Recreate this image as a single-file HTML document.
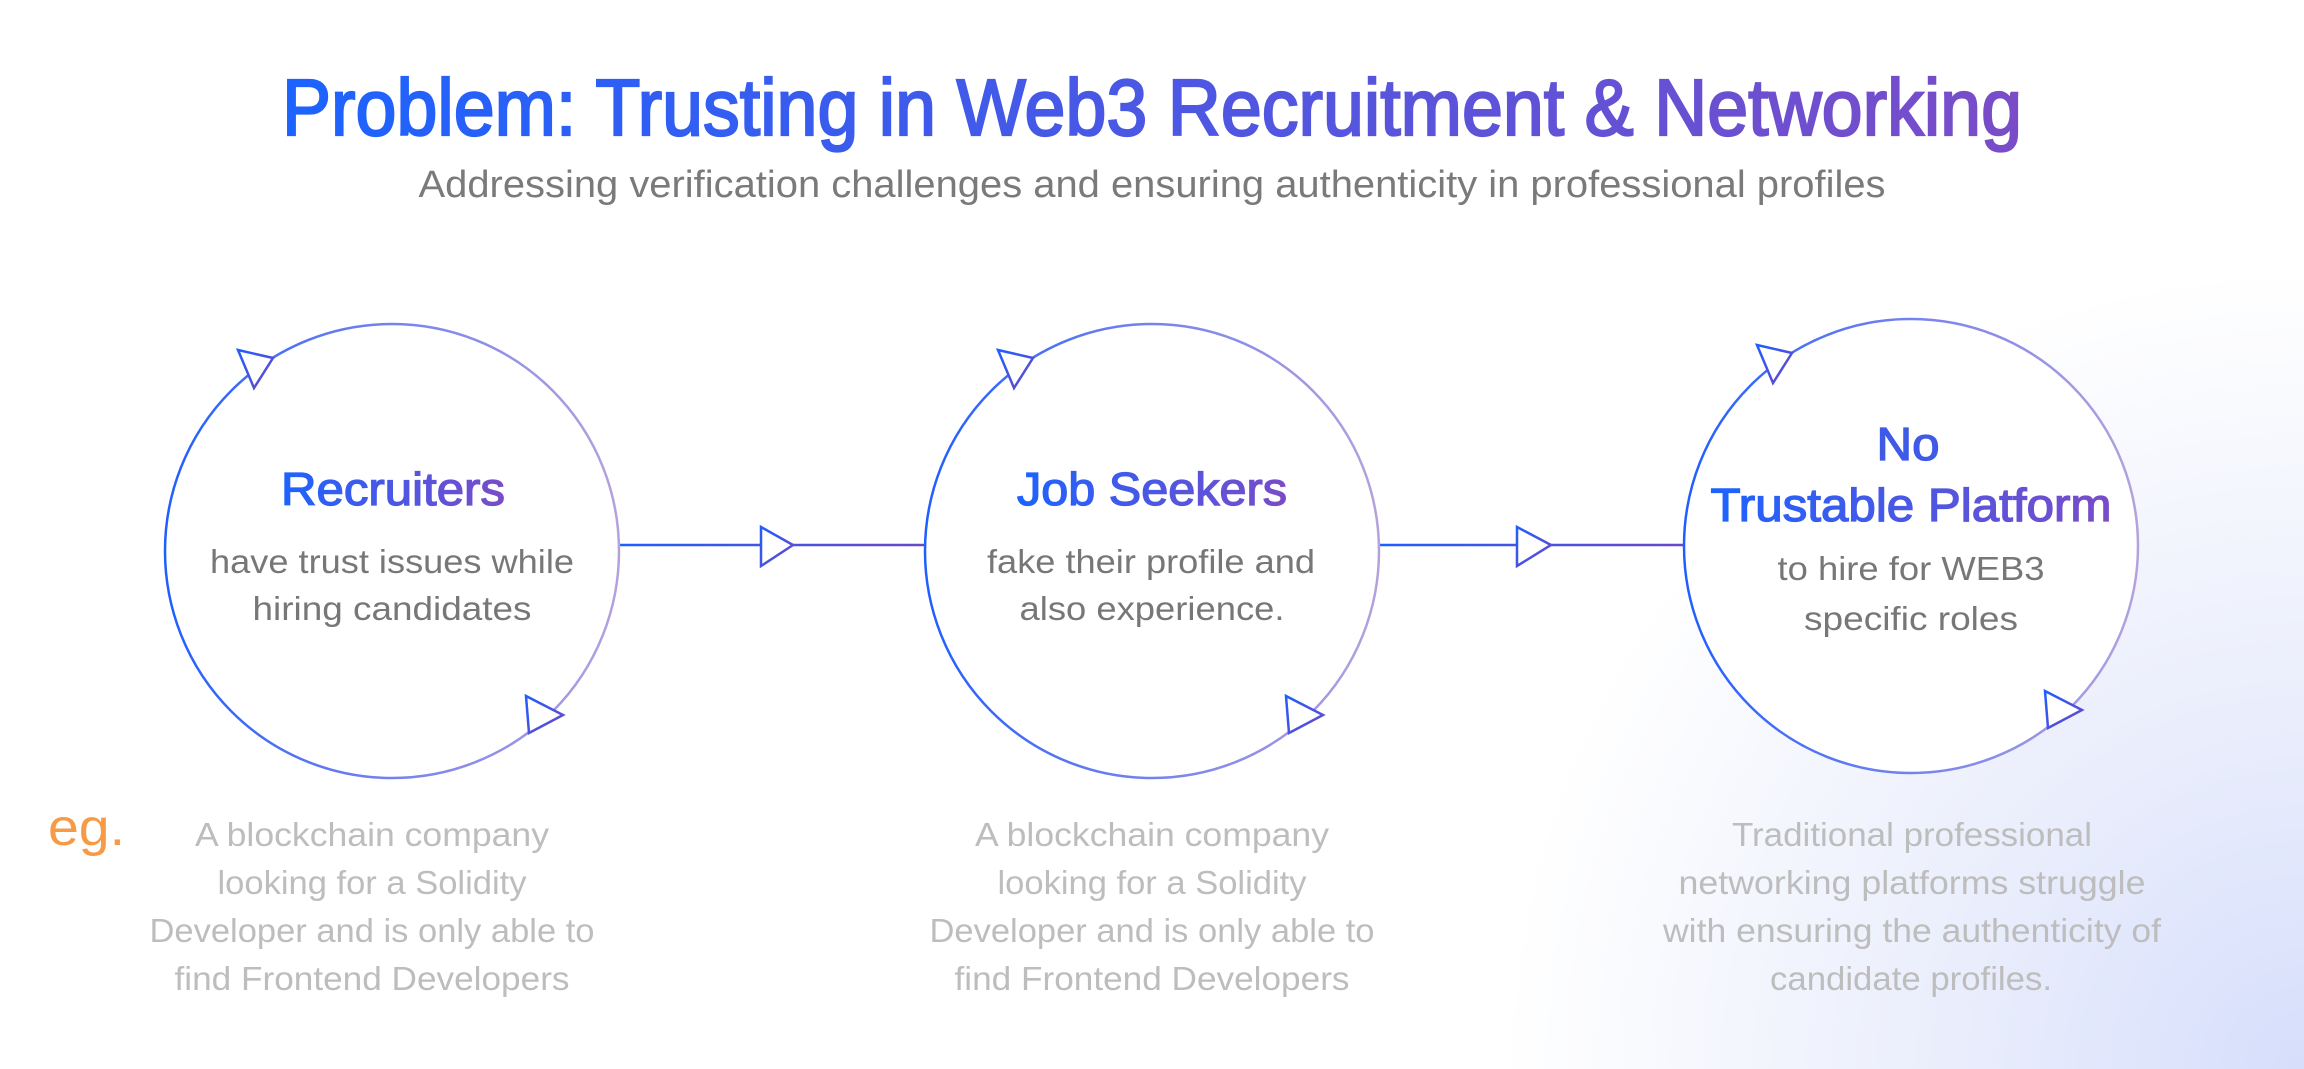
<!DOCTYPE html>
<html><head><meta charset="utf-8"><style>
html,body{margin:0;padding:0;background:#fff;}
svg{display:block;font-family:"Liberation Sans",sans-serif;}
</style></head><body>
<svg width="2304" height="1069" viewBox="0 0 2304 1069" xmlns="http://www.w3.org/2000/svg">
<defs>
<radialGradient id="bg" cx="2304" cy="1069" r="800" gradientUnits="userSpaceOnUse">
<stop offset="0" stop-color="#d6defb"/><stop offset="0.45" stop-color="#eaeefc"/><stop offset="1" stop-color="#ffffff"/>
</radialGradient>
<linearGradient id="tg" x1="0" x2="1" y1="0" y2="0"><stop offset="0" stop-color="#1c63ff"/><stop offset="1" stop-color="#7a4cc8"/></linearGradient>
<linearGradient id="cg" x1="0" x2="1" y1="0" y2="0"><stop offset="0" stop-color="#1f5eff"/><stop offset="0.45" stop-color="#6f7ff0"/><stop offset="1" stop-color="#b4a2dd"/></linearGradient>
<linearGradient id="lg1" gradientUnits="userSpaceOnUse" x1="620" x2="924" y1="0" y2="0"><stop offset="0" stop-color="#1f5eff"/><stop offset="1" stop-color="#6a48c8"/></linearGradient>
<linearGradient id="lg2" gradientUnits="userSpaceOnUse" x1="1380" x2="1684" y1="0" y2="0"><stop offset="0" stop-color="#1f5eff"/><stop offset="1" stop-color="#6a48c8"/></linearGradient>
<linearGradient id="ag" x1="0" x2="1" y1="0" y2="1"><stop offset="0" stop-color="#1f5eff"/><stop offset="1" stop-color="#6a48c8"/></linearGradient>
</defs>
<rect width="2304" height="1069" fill="url(#bg)"/>
<text x="1152" y="135" text-anchor="middle" font-size="80" fill="url(#tg)" stroke="url(#tg)" stroke-width="2.2" textLength="1740" lengthAdjust="spacingAndGlyphs">Problem: Trusting in Web3 Recruitment &amp; Networking</text>
<text x="1152" y="197" text-anchor="middle" font-size="38" fill="#7a7a7a" textLength="1467" lengthAdjust="spacingAndGlyphs">Addressing verification challenges and ensuring authenticity in professional profiles</text>

<line x1="620" y1="545" x2="924" y2="545" stroke="url(#lg1)" stroke-width="2.5"/>
<polygon points="761,527 793,545 761,566" fill="#fff" stroke="url(#ag)" stroke-width="2.5"/>
<line x1="1380" y1="545" x2="1684" y2="545" stroke="url(#lg2)" stroke-width="2.5"/>
<polygon points="1517,527 1551,545 1517,566" fill="#fff" stroke="url(#ag)" stroke-width="2.5"/>

<g>
<circle cx="392" cy="551" r="227" fill="#fff" stroke="url(#cg)" stroke-width="2.5"/>
<polygon points="238,350 273,358 254,388" fill="#fff" stroke="url(#ag)" stroke-width="2.5"/>
<polygon points="526,696 563,715 529,733" fill="#fff" stroke="url(#ag)" stroke-width="2.5"/>
</g>
<g transform="translate(760,0)">
<circle cx="392" cy="551" r="227" fill="#fff" stroke="url(#cg)" stroke-width="2.5"/>
<polygon points="238,350 273,358 254,388" fill="#fff" stroke="url(#ag)" stroke-width="2.5"/>
<polygon points="526,696 563,715 529,733" fill="#fff" stroke="url(#ag)" stroke-width="2.5"/>
</g>
<g transform="translate(1519,-5)">
<circle cx="392" cy="551" r="227" fill="#fff" stroke="url(#cg)" stroke-width="2.5"/>
<polygon points="238,350 273,358 254,388" fill="#fff" stroke="url(#ag)" stroke-width="2.5"/>
<polygon points="526,696 563,715 529,733" fill="#fff" stroke="url(#ag)" stroke-width="2.5"/>
</g>

<g text-anchor="middle">
<text x="393" y="505" font-size="46" fill="url(#tg)" stroke="url(#tg)" stroke-width="1.3" textLength="224" lengthAdjust="spacingAndGlyphs">Recruiters</text>
<text x="392" y="573" font-size="33" fill="#777" textLength="364" lengthAdjust="spacingAndGlyphs">have trust issues while</text>
<text x="392" y="620" font-size="33" fill="#777" textLength="279" lengthAdjust="spacingAndGlyphs">hiring candidates</text>

<text x="1152" y="505" font-size="46" fill="url(#tg)" stroke="url(#tg)" stroke-width="1.3" textLength="270" lengthAdjust="spacingAndGlyphs">Job Seekers</text>
<text x="1151" y="573" font-size="33" fill="#777" textLength="328" lengthAdjust="spacingAndGlyphs">fake their profile and</text>
<text x="1152" y="620" font-size="33" fill="#777" textLength="265" lengthAdjust="spacingAndGlyphs">also experience.</text>

<text x="1908" y="460" font-size="46" fill="#3f5ae6" stroke="#3f5ae6" stroke-width="1.3" textLength="63" lengthAdjust="spacingAndGlyphs">No</text>
<text x="1911" y="521" font-size="46" fill="url(#tg)" stroke="url(#tg)" stroke-width="1.3" textLength="401" lengthAdjust="spacingAndGlyphs">Trustable Platform</text>
<text x="1911" y="580" font-size="33" fill="#777" textLength="267" lengthAdjust="spacingAndGlyphs">to hire for WEB3</text>
<text x="1911" y="630" font-size="33" fill="#777" textLength="214" lengthAdjust="spacingAndGlyphs">specific roles</text>

<g font-size="33" fill="#bdbdbd">
<text x="372" y="846" textLength="354" lengthAdjust="spacingAndGlyphs">A blockchain company</text>
<text x="372" y="894" textLength="309" lengthAdjust="spacingAndGlyphs">looking for a Solidity</text>
<text x="372" y="942" textLength="445" lengthAdjust="spacingAndGlyphs">Developer and is only able to</text>
<text x="372" y="990" textLength="395" lengthAdjust="spacingAndGlyphs">find Frontend Developers</text>

<text x="1152" y="846" textLength="354" lengthAdjust="spacingAndGlyphs">A blockchain company</text>
<text x="1152" y="894" textLength="309" lengthAdjust="spacingAndGlyphs">looking for a Solidity</text>
<text x="1152" y="942" textLength="445" lengthAdjust="spacingAndGlyphs">Developer and is only able to</text>
<text x="1152" y="990" textLength="395" lengthAdjust="spacingAndGlyphs">find Frontend Developers</text>

<text x="1912" y="846" textLength="360" lengthAdjust="spacingAndGlyphs">Traditional professional</text>
<text x="1912" y="894" textLength="467" lengthAdjust="spacingAndGlyphs">networking platforms struggle</text>
<text x="1912" y="942" textLength="498" lengthAdjust="spacingAndGlyphs">with ensuring the authenticity of</text>
<text x="1911" y="990" textLength="282" lengthAdjust="spacingAndGlyphs">candidate profiles.</text>
</g>
</g>
<text x="48" y="845" font-size="52" fill="#f79a45" textLength="77" lengthAdjust="spacingAndGlyphs">eg.</text>
</svg>
</body></html>
